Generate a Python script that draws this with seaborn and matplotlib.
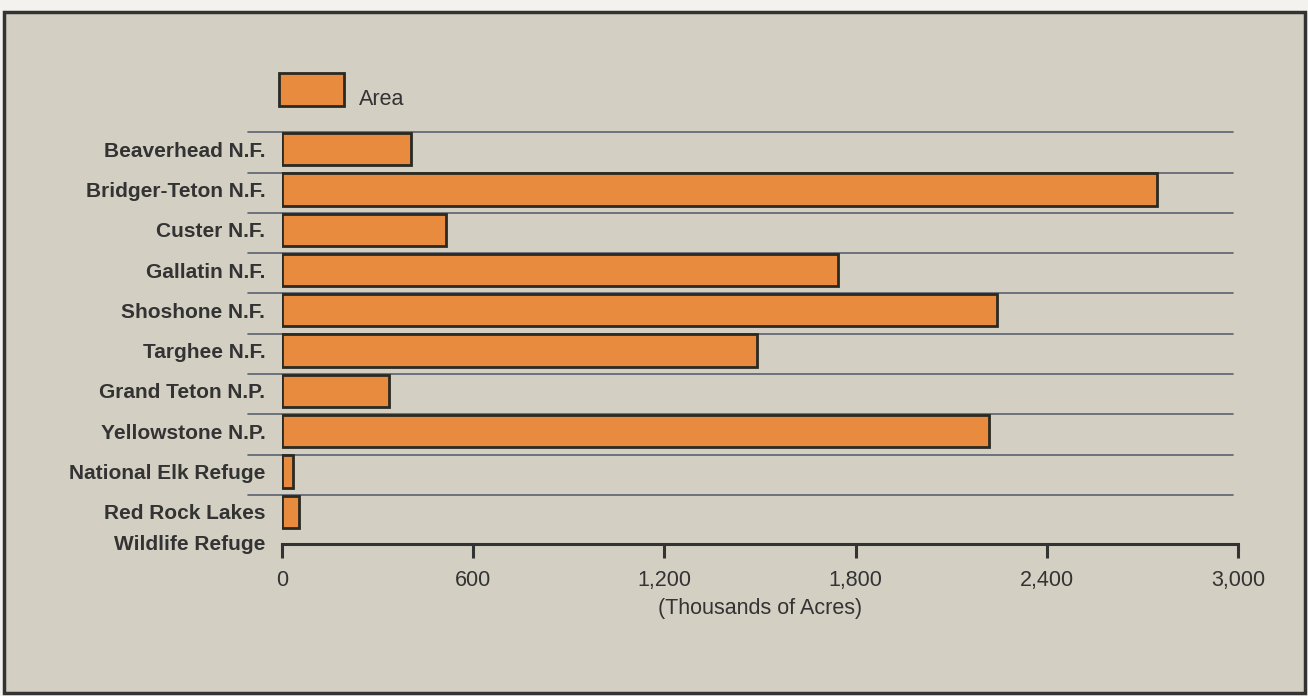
import matplotlib
matplotlib.use("Agg")
import matplotlib.pyplot as plt
from matplotlib.patches import Rectangle
from matplotlib.transforms import ScaledTranslation
import pandas as pd
import seaborn as sns

# Area of each unit, thousands of acres
units = [
    "Beaverhead N.F.",
    "Bridger-Teton N.F.",
    "Custer N.F.",
    "Gallatin N.F.",
    "Shoshone N.F.",
    "Targhee N.F.",
    "Grand Teton N.P.",
    "Yellowstone N.P.",
    "National Elk Refuge",
    "Red Rock Lakes\nWildlife Refuge",
]
area = [405, 2745, 515, 1745, 2245, 1490, 335, 2220, 35, 52]
x_ticks = [0, 600, 1200, 1800, 2400, 3000]
x_tick_labels = ["0", "600", "1,200", "1,800", "2,400", "3,000"]

BG = "#d3cfc2"
ORANGE = "#e98b3e"
DARK = "#333333"
RULE = "#5b6170"

sns.set_style("white")
plt.rcParams["font.family"] = ["Liberation Sans", "DejaVu Sans"]

df = pd.DataFrame({"unit": units, "area": area})

fig = plt.figure(figsize=(13.08, 6.96), dpi=100, facecolor="#f3f2ee")

# Panel frame
fig.patches.append(Rectangle((4 / 1308, 3 / 696), 1301 / 1308, 681 / 696,
                             transform=fig.transFigure, facecolor=BG,
                             edgecolor=DARK, linewidth=2.5, zorder=-10))

ax = fig.add_axes([282 / 1308, 152 / 696, 956 / 1308, 413 / 696])
ax.set_zorder(5)
ax.set_facecolor("none")

sns.barplot(data=df, x="area", y="unit", orient="h", color=ORANGE,
            saturation=1, width=0.8, edgecolor="#2a2a22", linewidth=2.0,
            label="Area", ax=ax, zorder=3)

ax.set_xlim(0, 3000)
ax.set_ylim(9.8, -0.45)

# Separator rules between rows
for i in range(len(units)):
    ax.axhline(i - 0.42, xmin=-0.036, xmax=0.995, color=RULE, lw=1.2,
               clip_on=False, zorder=1)

for side in ["top", "right", "left"]:
    ax.spines[side].set_visible(False)
ax.spines["bottom"].set_color(DARK)
ax.spines["bottom"].set_linewidth(2.2)

ax.set_xticks(x_ticks)
ax.set_xticklabels(x_tick_labels, fontsize=15.5, color=DARK)
ax.tick_params(axis="x", bottom=True, direction="out", length=10, width=2.2,
               color=DARK, pad=9)
ax.tick_params(axis="y", left=False, length=0, pad=12)
ylabels = ax.get_yticklabels()
for lbl in ylabels:
    lbl.set_fontsize(15)
    lbl.set_fontweight("bold")
    lbl.set_color(DARK)
    lbl.set_linespacing(1.75)
# two-line label sits a little low in its row
ylabels[-1].set_transform(ylabels[-1].get_transform()
                          + ScaledTranslation(0, -7 / 72, fig.dpi_scale_trans))

ax.set_ylabel("")
ax.set_xlabel("(Thousands of Acres)", fontsize=15.5, color=DARK, labelpad=5)

leg = ax.legend(loc="upper left", bbox_to_anchor=(279 / 1308, 1 - 73 / 696),
                bbox_transform=fig.transFigure, frameon=False, fontsize=15.5,
                handlelength=3.0, handleheight=2.0, handletextpad=0.7,
                borderpad=0, borderaxespad=0)
for t in leg.get_texts():
    t.set_color(DARK)
    t.set_transform(t.get_transform()
                    + ScaledTranslation(0, -6 / 72, fig.dpi_scale_trans))

fig.savefig("out.png", dpi=100, facecolor=fig.get_facecolor())
